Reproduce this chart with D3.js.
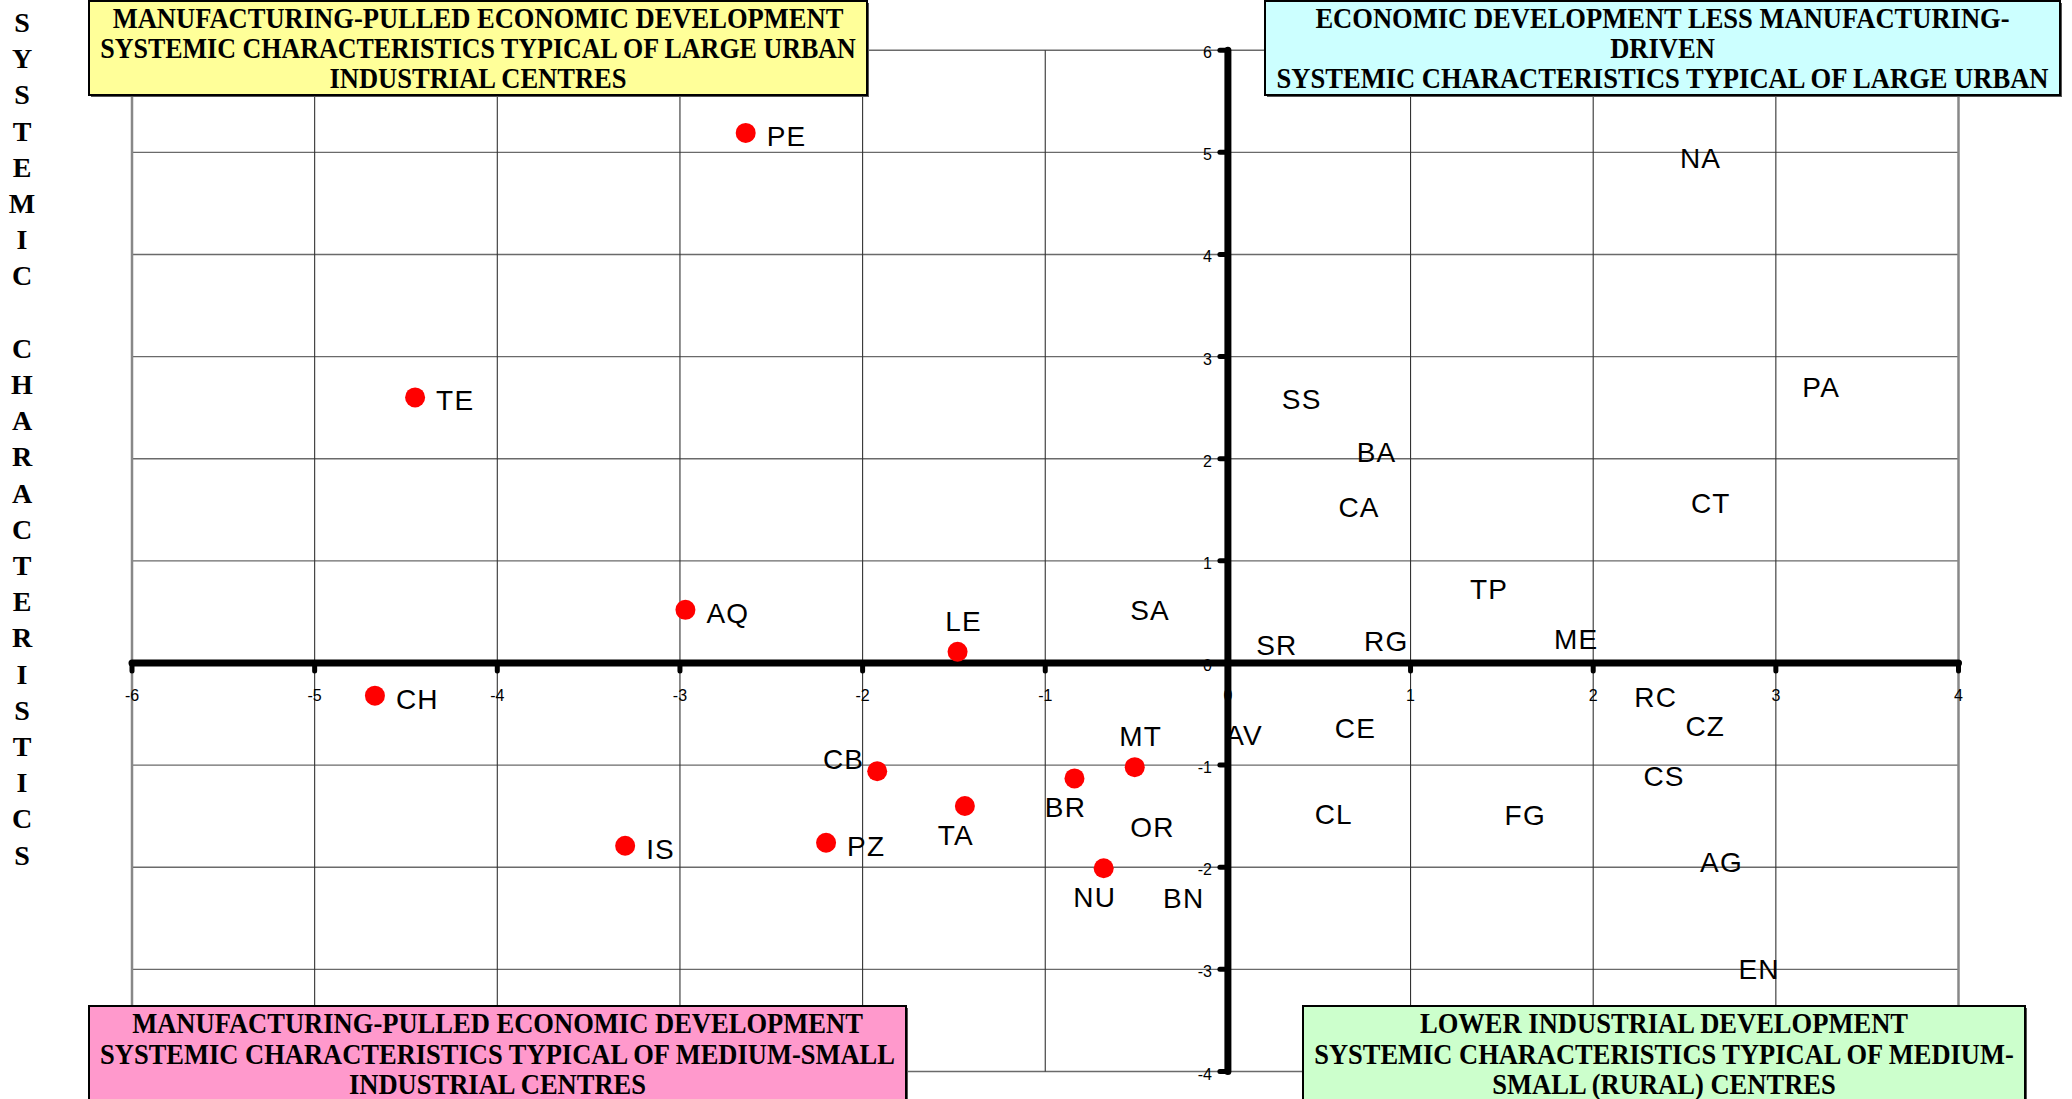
<!DOCTYPE html>
<html>
<head>
<meta charset="utf-8">
<script src="https://cdn.jsdelivr.net/npm/d3@7"></script>
<style>
	body { margin: 0; background: #fff; }
	svg { display: block; }
	.lbl { font-family: "Liberation Sans", Arial, sans-serif; font-size: 28px; letter-spacing: 1.2px; fill: #000; }
	.tick { font-family: "Liberation Sans", Arial, sans-serif; font-size: 16px; fill: #000; }
	.box text { font-family: "Liberation Serif", "Times New Roman", serif; font-weight: bold; font-size: 30px; fill: #000; }
</style>
</head>
<body>
<div id="chart"></div>
<script>
'use strict'
// provinces with manufacturing-pulled development (red markers)
let redNames = ['PE', 'TE', 'AQ', 'LE', 'CH', 'CB', 'TA', 'BR', 'MT', 'PZ', 'IS', 'NU']
let redX = [-2.64, -4.45, -2.97, -1.48, -4.67, -1.92, -1.44, -0.84, -0.51, -2.20, -3.30, -0.68]
let redY = [5.19, 2.60, 0.52, 0.11, -0.32, -1.06, -1.40, -1.13, -1.02, -1.76, -1.79, -2.01]
let redPos = ['r', 'r', 'r', 't', 'r', 'l', 'b', 'b', 't', 'r', 'r', 'b']

// the other provinces (label only, no marker)
let otherNames = ['NA', 'SS', 'BA', 'CA', 'PA', 'CT', 'TP', 'SA', 'SR', 'RG', 'ME', 'RC', 'CZ', 'AV', 'CE', 'CS', 'CL', 'FG', 'OR', 'BN', 'AG', 'EN']
let otherX = [2.36, 0.18, 0.59, 0.49, 3.03, 2.42, 1.21, -0.65, 0.04, 0.63, 1.67, 2.11, 2.39, -0.13, 0.47, 2.16, 0.36, 1.40, -0.65, -0.47, 2.47, 2.68]
let otherY = [4.97, 2.61, 2.10, 1.56, 2.73, 1.60, 0.75, 0.55, 0.21, 0.24, 0.26, -0.30, -0.59, -0.68, -0.61, -1.08, -1.45, -1.46, -1.58, -2.27, -1.92, -2.97]

let xTicks = [-6, -5, -4, -3, -2, -1, 0, 1, 2, 3, 4]
let yTicks = [-4, -3, -2, -1, 0, 1, 2, 3, 4, 5, 6]

let axisTitle = 'SYSTEMIC CHARACTERISTICS'

let quadrants = [
	{ fill: '#FFFF99', lines: ['MANUFACTURING-PULLED ECONOMIC DEVELOPMENT', 'SYSTEMIC CHARACTERISTICS TYPICAL OF LARGE URBAN', 'INDUSTRIAL CENTRES'] },
	{ fill: '#CCFFFF', lines: ['ECONOMIC DEVELOPMENT LESS MANUFACTURING-', 'DRIVEN', 'SYSTEMIC CHARACTERISTICS TYPICAL OF LARGE URBAN'] },
	{ fill: '#FF99CC', lines: ['MANUFACTURING-PULLED ECONOMIC DEVELOPMENT', 'SYSTEMIC CHARACTERISTICS TYPICAL OF MEDIUM-SMALL', 'INDUSTRIAL CENTRES'] },
	{ fill: '#CCFFCC', lines: ['LOWER INDUSTRIAL DEVELOPMENT', 'SYSTEMIC CHARACTERISTICS TYPICAL OF MEDIUM-', 'SMALL (RURAL) CENTRES'] }
]

let W = 2072, H = 1099

let svg = d3.select('#chart').append('svg')
	.attr('width', W)
	.attr('height', H)

let x = d3.scaleLinear().domain([-6, 4]).range([132, 1958.5])
let y = d3.scaleLinear().domain([-4, 6]).range([1071.5, 50.2])

// grid
let grid = svg.append('g')
grid.selectAll('.hg').data(yTicks).enter().append('line')
	.attr('x1', x(-6)).attr('x2', x(4))
	.attr('y1', d => y(d)).attr('y2', d => y(d))
	.attr('stroke', '#6a6a6a').attr('stroke-width', 1.4)
grid.selectAll('.vg').data(xTicks).enter().append('line')
	.attr('x1', d => x(d)).attr('x2', d => x(d))
	.attr('y1', y(6)).attr('y2', y(-4))
	.attr('stroke', d => (d == -6 || d == 4) ? '#888' : '#333')
	.attr('stroke-width', d => (d == -6 || d == 4) ? 2.5 : 1.1)

// tick labels
svg.append('g').selectAll('text').data(xTicks).enter().append('text')
	.attr('class', 'tick')
	.attr('x', d => x(d))
	.attr('y', y(0) + 38)
	.attr('text-anchor', 'middle')
	.text(d => d)
svg.append('g').selectAll('text').data(yTicks).enter().append('text')
	.attr('class', 'tick')
	.attr('x', x(0) - 16)
	.attr('y', d => y(d) + 8)
	.attr('text-anchor', 'end')
	.text(d => d)

// labels for points without marker
svg.append('g').selectAll('text').data(otherNames).enter().append('text')
	.attr('class', 'lbl')
	.attr('x', (d, i) => x(otherX[i]) + 21)
	.attr('y', (d, i) => y(otherY[i]) + 13)
	.text(d => d)

// axes
let axes = svg.append('g')
axes.append('line')
	.attr('x1', x(-6)).attr('x2', x(4))
	.attr('y1', y(0)).attr('y2', y(0))
	.attr('stroke', '#000').attr('stroke-width', 7).attr('stroke-linecap', 'round')
axes.append('line')
	.attr('x1', x(0)).attr('x2', x(0))
	.attr('y1', y(6)).attr('y2', y(-4))
	.attr('stroke', '#000').attr('stroke-width', 7).attr('stroke-linecap', 'round')
axes.selectAll('.xt').data(xTicks).enter().append('line')
	.attr('x1', d => x(d)).attr('x2', d => x(d))
	.attr('y1', y(0)).attr('y2', y(0) + 8)
	.attr('stroke', '#000').attr('stroke-width', 5).attr('stroke-linecap', 'round')
axes.selectAll('.yt').data(yTicks).enter().append('line')
	.attr('x1', x(0) - 8).attr('x2', x(0))
	.attr('y1', d => y(d)).attr('y2', d => y(d))
	.attr('stroke', '#000').attr('stroke-width', 5).attr('stroke-linecap', 'round')

// red points
let red = redNames.map((n, i) => ({ name: n, x: redX[i], y: redY[i], pos: redPos[i] }))
let pts = svg.append('g')
pts.selectAll('circle').data(red).enter().append('circle')
	.attr('cx', d => x(d.x))
	.attr('cy', d => y(d.y))
	.attr('r', 10)
	.attr('fill', '#ff0000')

pts.selectAll('text').data(red).enter().append('text')
	.attr('class', 'lbl')
	.attr('x', d => {
		if (d.pos == 'r') return x(d.x) + 21
		if (d.pos == 'l') return x(d.x) - 13
		if (d.pos == 't') return x(d.x) + 6
		return x(d.x) - 9
	})
	.attr('y', d => {
		if (d.pos == 'r') return y(d.y) + 13
		if (d.pos == 'l') return y(d.y) - 2
		if (d.pos == 't') return y(d.y) - 21
		return y(d.y) + 39
	})
	.attr('text-anchor', d => d.pos == 'r' ? 'start' : (d.pos == 'l' ? 'end' : 'middle'))
	.text(d => d.name)

// vertical axis title
svg.append('g').selectAll('text').data(axisTitle.split('')).enter().append('text')
	.attr('x', 22)
	.attr('y', (d, i) => 32 + i * 36.2)
	.attr('text-anchor', 'middle')
	.style('font-family', '"Liberation Serif", "Times New Roman", serif')
	.style('font-weight', 'bold')
	.style('font-size', '28px')
	.text(d => d)

// quadrant boxes
let boxGeom = [
	[89, 1, 867, 95],
	[1265, 1, 2060, 95],
	[89, 1006, 906, 1110],
	[1303, 1006, 2025, 1110]
]
let baseTop = [28, 58, 88], baseBot = [1033, 1064, 1094]

quadrants.forEach(function(q, k) {
	let b = boxGeom[k]
	let g = svg.append('g').attr('class', 'box')
	g.append('rect')
		.attr('x', b[0] + 2).attr('y', b[1] + 2)
		.attr('width', b[2] - b[0]).attr('height', b[3] - b[1])
		.attr('fill', '#555')
	g.append('rect')
		.attr('x', b[0]).attr('y', b[1])
		.attr('width', b[2] - b[0]).attr('height', b[3] - b[1])
		.attr('fill', q.fill)
		.attr('stroke', '#000').attr('stroke-width', 2)
	let cx = (b[0] + b[2]) / 2
	let bl = k < 2 ? baseTop : baseBot
	let maxW = b[2] - b[0] - 22
	// condensed bold serif: squeeze each line horizontally
	q.lines.forEach(function(line, i) {
		let t = g.append('text')
			.attr('x', 0).attr('y', 0)
			.attr('text-anchor', 'middle')
			.text(line)
		let w = t.node().getComputedTextLength()
		let sx = Math.min(0.885, maxW / w)
		t.attr('transform', 'translate(' + cx + ',' + bl[i] + ') scale(' + sx + ',1)')
	})
})
</script>
</body>
</html>
